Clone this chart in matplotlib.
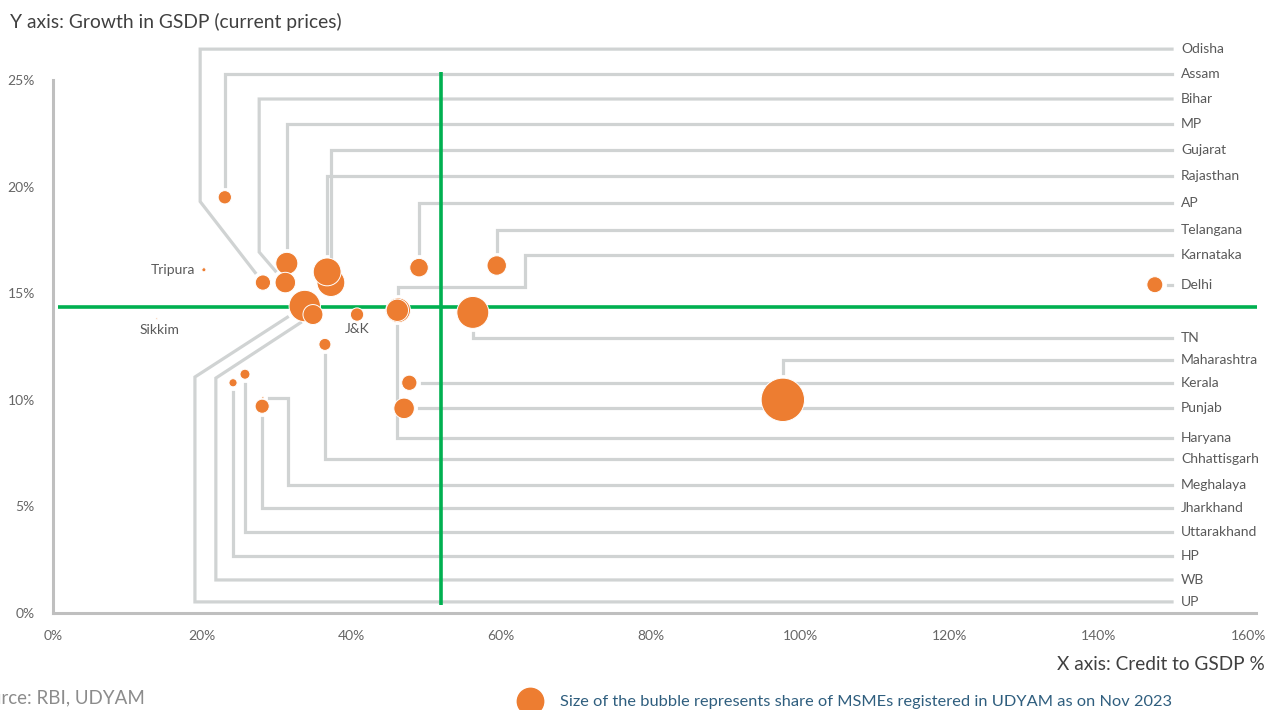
import numpy as np
import matplotlib.pyplot as plt
from matplotlib.lines import Line2D

plt.rcParams['font.family'] = ['Lato', 'DejaVu Sans']

# # # # # data # # # # #

states = ["Odisha", "Assam", "Bihar", "MP", "Gujarat", "Rajasthan", "AP", "Telangana",
          "Karnataka", "Delhi", "TN", "Maharashtra", "Kerala", "Punjab", "Haryana",
          "Chhattisgarh", "Meghalaya", "Jharkhand", "Uttarakhand", "HP", "WB", "UP",
          "J&K", "Tripura", "Sikkim"]

# credit to GSDP (%)
credit_to_gsdp = [28.1, 23.0, 31.1, 31.3, 37.2, 36.7, 49.0, 59.4,
                  46.2, 147.5, 56.2, 97.7, 47.7, 47.0, 46.1,
                  36.4, 28.1, 28.0, 25.7, 24.1, 34.8, 33.7,
                  40.7, 20.2, 13.9]

# growth in GSDP, current prices (%)
gsdp_growth = [15.5, 19.5, 15.5, 16.4, 15.5, 16.0, 16.2, 16.3,
               14.2, 15.4, 14.1, 10.0, 10.8, 9.6, 14.2,
               12.6, 10.1, 9.7, 11.2, 10.8, 14.0, 14.4,
               14.0, 16.1, 13.8]

# share of MSMEs registered in UDYAM (%)
msme_share = [2.1, 1.6, 3.8, 4.4, 7.0, 7.0, 3.1, 3.4,
              5.5, 2.3, 9.2, 17.0, 2.1, 3.8, 4.5,
              1.3, 0.04, 1.8, 0.9, 0.6, 3.6, 8.9,
              1.6, 0.15, 0.03]

# all-India reference levels
avg_credit = 51.9
avg_growth = 14.35

x_ticks = [0, 20, 40, 60, 80, 100, 120, 140, 160]
y_ticks = [0, 5, 10, 15, 20, 25]

# # # # # layout # # # # #

# height of each state's row in the label column (None = level with its bubble)
label_rows = {"Odisha": 26.45, "Assam": 25.28, "Bihar": 24.11, "MP": 22.94,
              "Gujarat": 21.72, "Rajasthan": 20.50, "AP": 19.23, "Telangana": 17.96,
              "Karnataka": 16.79, "Delhi": None, "TN": 12.90, "Maharashtra": 11.87,
              "Kerala": None, "Punjab": None, "Haryana": 8.21, "Chhattisgarh": 7.22,
              "Meghalaya": 6.00, "Jharkhand": 4.92, "Uttarakhand": 3.80, "HP": 2.67,
              "WB": 1.55, "UP": 0.52}

# leader lines that need extra corners on the way to their bubble
bends = {"Odisha": [(19.7, 26.45), (19.7, 19.3)],
         "Bihar": [(27.6, 24.11), (27.6, 16.93)],
         "Karnataka": [(63.2, 16.79), (63.2, 15.29), (46.2, 15.29)],
         "Meghalaya": [(31.5, 6.00), (31.5, 10.1)],
         "WB": [(21.8, 1.55), (21.8, 11.02)],
         "UP": [(19.0, 0.52), (19.0, 11.07)]}

# states labelled next to the bubble: (dx, dy) in points, alignment
direct_labels = {"Tripura": (-6, 0, "right", "center"),
                 "Sikkim": (2, -4, "center", "top"),
                 "J&K": (0, -6, "center", "top")}

ORANGE = "#ED7D31"
GREEN = "#00B050"
LEADER = "#D0D3D3"
SPINE = "#BFBFBF"
TEXT = "#595959"
SIZE_MULT = 57.4
LABEL_X = 151.0
LINE_END_X = 149.8
GAP_PX = 5

# # # # # figure # # # # #

W, H = 1277, 710
fig = plt.figure(figsize=(W / 100, H / 100), dpi=100)
ax = fig.add_axes([53 / W, 97 / H, 1202.7 / W, 575.6 / H])
ax.set_xlim(0, 161)
ax.set_ylim(0, 27)

for side in ["top", "right"]:
    ax.spines[side].set_visible(False)
for side in ["left", "bottom"]:
    ax.spines[side].set_color(SPINE)
    ax.spines[side].set_linewidth(2.2)
ax.spines["left"].set_bounds(0, 25)

ax.set_xticks(x_ticks)
ax.set_xticklabels([f"{v}%" for v in x_ticks])
ax.set_yticks(y_ticks)
ax.set_yticklabels([f"{v}%" for v in y_ticks])
ax.tick_params(axis="x", length=0, pad=12, labelsize=10, labelcolor="#666666")
ax.tick_params(axis="y", length=0, pad=13, labelsize=10, labelcolor="#666666")

# reference lines
ax.plot([avg_credit, avg_credit], [0.38, 25.4], color=GREEN, lw=2.6, zorder=2,
        solid_capstyle="butt", clip_on=False)
ax.plot([0.7, 161.2], [avg_growth, avg_growth], color=GREEN, lw=2.6, zorder=2,
        solid_capstyle="butt", clip_on=False)

# bubbles, biggest first so small ones stay visible
sizes = np.array(msme_share) * SIZE_MULT
order = np.argsort(-sizes, kind="stable")
ax.scatter(np.array(credit_to_gsdp)[order], np.array(gsdp_growth)[order], s=sizes[order],
           color=ORANGE, edgecolors="white", linewidths=0.7, zorder=3, clip_on=False)

# leader lines and the label column
to_px = ax.transData.transform
to_data = ax.transData.inverted().transform
radius_px = np.sqrt(sizes) / 2 * fig.dpi / 72

for i, name in enumerate(states):
    if name not in label_rows:
        continue
    bx, by = credit_to_gsdp[i], gsdp_growth[i]
    row = label_rows[name] if label_rows[name] is not None else by
    if name in bends:
        corners = bends[name]
    elif row == by:
        corners = []
    else:
        corners = [(bx, row)]
    pts = [(LINE_END_X, row)] + corners

    # last leg runs towards the bubble and stops short of its edge
    p_last = to_px(pts[-1])
    p_b = to_px((bx, by))
    d = p_b - p_last
    end = p_b - d / np.hypot(*d) * (radius_px[i] + GAP_PX)
    pts.append(tuple(to_data(end)))

    xs, ys = zip(*pts)
    ax.plot(xs, ys, color=LEADER, lw=2.3, zorder=1, solid_joinstyle="miter",
            clip_on=False)
    ax.text(LABEL_X, row, name, ha="left", va="center", fontsize=10, color=TEXT)

for name, (dx, dy, ha, va) in direct_labels.items():
    i = states.index(name)
    ax.annotate(name, (credit_to_gsdp[i], gsdp_growth[i]), xytext=(dx, dy),
                textcoords="offset points", ha=ha, va=va, fontsize=10, color=TEXT)

# titles and notes
fig.text(10 / W, 1 - 22 / H, "Y axis: Growth in GSDP (current prices)", ha="left",
         va="center", fontsize=13.9, color="#404040")
fig.text(1265 / W, 1 - 665 / H, "X axis: Credit to GSDP %", ha="right", va="center",
         fontsize=13.7, color="#404040")
fig.text(145 / W, 1 - 698 / H, "Source: RBI, UDYAM", ha="right", va="center",
         fontsize=13.5, color="#8C8C8C")

bubble_key = Line2D([], [], ls="", marker="o", ms=19, mfc=ORANGE, mec=ORANGE)
ax.legend(handles=[bubble_key],
          labels=["Size of the bubble represents share of MSMEs registered in UDYAM as on Nov 2023"],
          loc="center left", bbox_to_anchor=(514 / W, 1 - 702 / H),
          bbox_transform=fig.transFigure, frameon=False, borderpad=0, borderaxespad=0,
          fontsize=11.8, labelcolor="#2F5E7E")

fig.savefig("out.png", dpi=100)
